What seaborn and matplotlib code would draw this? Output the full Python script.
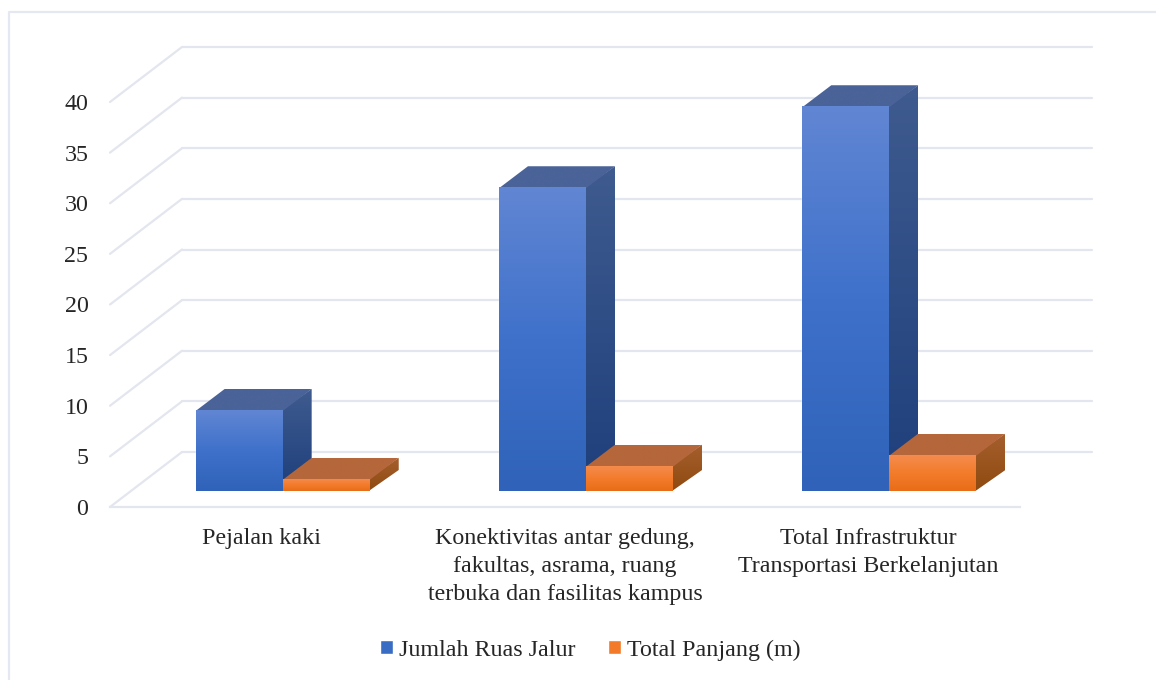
import numpy as np
import pandas as pd
import seaborn as sns
import matplotlib
matplotlib.use('Agg')
import matplotlib.pyplot as plt
from matplotlib.colors import LinearSegmentedColormap
from matplotlib.patches import Polygon

# values
categories = ['Pejalan kaki',
              'Konektivitas antar gedung,\nfakultas, asrama, ruang\nterbuka dan fasilitas kampus',
              'Total Infrastruktur\nTransportasi Berkelanjutan']
jumlah_ruas = [8, 30, 38]
total_panjang = [1.2, 2.5, 3.6]
series_names = ['Jumlah Ruas Jalur', 'Total Panjang (m)']
y_ticks = [0, 5, 10, 15, 20, 25, 30, 35, 40]

W, H = 1156, 680
GRID = '#E3E6EE'
TEXT = '#262626'
FONT = 17.3

# front, side, top colours for each series
blue = {'base': '#3A6CC4', 'front': ['#6186D3', '#3F71CB', '#2F62B8'],
        'side': ['#3F5B8F', '#1E3F7C'], 'top': ['#4A6398', '#4A6398']}
orange = {'base': '#F27A28', 'front': ['#F48D50', '#F37C2C', '#E96D17'],
          'side': ['#A55F2E', '#8F4A10'], 'top': ['#B5673B', '#B5673B']}

sns.set_theme(style='white')
plt.rcParams['font.family'] = ['Liberation Serif', 'DejaVu Serif']

df = pd.DataFrame({
    'kategori': categories * 2,
    'seri': [series_names[0]] * 3 + [series_names[1]] * 3,
    'nilai': jumlah_ruas + total_panjang,
})

fig = plt.figure(figsize=(W / 100, H / 100), dpi=100, facecolor='white')


# an axes for one depth plane of the fake 3D box, offset in pixels from the front
def plane_axes(dx, dy, z):
    a = fig.add_axes([(110 + dx) / W, (173 + dy) / H, 910 / W, 405 / H], zorder=z)
    a.set_facecolor('none')
    return a


ax_wall = plane_axes(72, 55, 1)
ax_bars = plane_axes(21, 16, 2)
ax = plane_axes(0, 0, 3)

for a in (ax_wall, ax_bars, ax):
    a.set_xlim(-0.5, 2.5)
    a.set_ylim(0, 40)

# back wall gridlines
ax_wall.set_yticks(y_ticks)
ax_wall.set_xticks([])
ax_wall.tick_params(left=False, labelleft=False)
ax_wall.grid(axis='y', color=GRID, lw=1.6)
for line in ax_wall.get_ygridlines():
    line.set_clip_on(False)
sns.despine(ax=ax_wall, left=True, bottom=True)

# bars, the depth is added on top of them further down
sns.barplot(data=df, x='kategori', y='nilai', hue='seri', ax=ax_bars, width=0.574,
            gap=0, palette=[blue['base'], orange['base']], saturation=1)
ax_bars.set_xlim(-0.5, 2.5)
ax_bars.set_ylim(0, 40)
ax_bars.set_xlabel('')
ax_bars.set_ylabel('')
ax_bars.set_xticks([])
ax_bars.set_yticks([])
sns.despine(ax=ax_bars, left=True, bottom=True)
sns.move_legend(ax_bars, 'center', bbox_to_anchor=(590 / W, 1 - 650 / H),
                bbox_transform=fig.transFigure, ncol=2, frameon=False, title=None,
                fontsize=FONT, handlelength=0.55, handleheight=0.55,
                handletextpad=0.24, columnspacing=1.35, labelcolor=TEXT)

# front plane carries the labels and the floor line
ax.set_xticks([0, 1, 2])
ax.set_xticklabels(categories, fontsize=FONT, color=TEXT, linespacing=1.44)
ax.set_yticks(y_ticks)
ax.set_yticklabels([str(v) for v in y_ticks], fontsize=FONT, color=TEXT)
ax.tick_params(axis='x', length=0, pad=15)
ax.tick_params(axis='y', length=0, pad=15.5)
sns.despine(ax=ax, left=True)
ax.spines['bottom'].set_color(GRID)
ax.spines['bottom'].set_linewidth(1.6)

# overlay in pixels, y going up like the display coordinates
ov = fig.add_axes([0, 0, 1, 1], zorder=4)
ov.set_facecolor('none')
ov.axis('off')

fig.canvas.draw()

# diagonal lines joining front plane and back wall
for v in y_ticks:
    p0 = ax.transData.transform((-0.5, v))
    p1 = ax_wall.transData.transform((-0.5, v))
    ov.plot([p0[0], p1[0]], [p0[1], p1[1]], color=GRID, lw=1.6, zorder=1)


def gradient_face(pts, colors, zorder):
    pts = np.array(pts)
    cmap = LinearSegmentedColormap.from_list('face', colors)
    grad = np.linspace(0, 1, 256).reshape(-1, 1)
    im = ov.imshow(grad, cmap=cmap, aspect='auto', zorder=zorder,
                   extent=(pts[:, 0].min(), pts[:, 0].max(), pts[:, 1].min(), pts[:, 1].max()))
    im.set_clip_path(Polygon(pts, transform=ov.transData))


DEPTH_X, DEPTH_Y = 29, 21
z = 2
for container, style in zip(ax_bars.containers, [blue, orange]):
    for bar in container:
        x0, y0 = ax_bars.transData.transform((bar.get_x(), 0))
        x1, y1 = ax_bars.transData.transform((bar.get_x() + bar.get_width(), bar.get_height()))
        # side and top run 1px under the front face so no seam shows
        gradient_face([(x1 - 1, y0), (x1 + DEPTH_X, y0 + DEPTH_Y), (x1 + DEPTH_X, y1 + DEPTH_Y), (x1 - 1, y1)],
                      style['side'], z)
        gradient_face([(x0, y1 - 1), (x1, y1 - 1), (x1 + DEPTH_X, y1 + DEPTH_Y), (x0 + DEPTH_X, y1 + DEPTH_Y)],
                      style['top'], z + 1)
        gradient_face([(x0, y0), (x1, y0), (x1, y1), (x0, y1)], style['front'], z + 2)
    z += 3

# frame of the screenshot, only top and left show
ov.plot([9, 9, W], [0, H - 11.5, H - 11.5], color='#E4E8F0', lw=1.6, zorder=1)

ov.set_xlim(0, W)
ov.set_ylim(0, H)

fig.savefig('out.png', dpi=100)
